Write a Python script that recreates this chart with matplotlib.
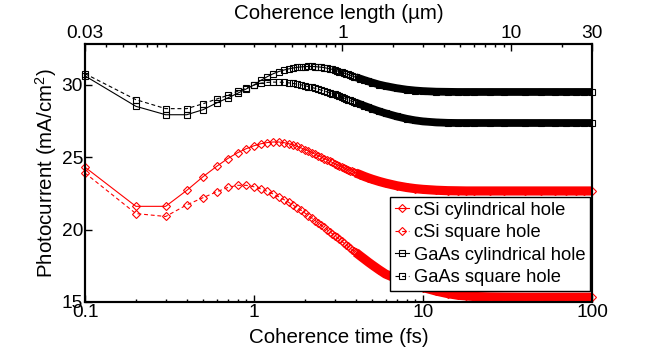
import matplotlib
matplotlib.use("Agg")
import matplotlib.pyplot as plt
from matplotlib.ticker import NullFormatter, LogLocator

plt.rcParams['font.family'] = ['Liberation Sans', 'DejaVu Sans']
plt.rcParams['mathtext.default'] = 'regular'

# Coherence time (fs)
t = [0.1, 0.2, 0.3, 0.4, 0.5, 0.6, 0.7, 0.8, 0.9, 1.0,
     1.1, 1.2, 1.3, 1.4, 1.5, 1.6, 1.7, 1.8, 1.9, 2.0,
     2.1, 2.2, 2.3, 2.4, 2.5, 2.6, 2.7, 2.8, 2.9, 3.0,
     3.1, 3.2, 3.3, 3.4, 3.5, 3.6, 3.7, 3.8, 3.9, 4.0,
     4.25, 4.5, 4.75, 5, 5.5, 6, 7, 8, 9, 10,
     12, 14, 16, 18, 20, 25, 30, 40, 50, 60, 70, 80, 90, 100]

csi_cyl = [24.3, 21.6, 21.6, 22.7, 23.65, 24.35, 24.9, 25.3, 25.58, 25.78,
           25.92, 26.0, 26.04, 26.04, 26.0, 25.93, 25.84, 25.74, 25.63, 25.52,
           25.42, 25.31, 25.2, 25.1, 25.0, 24.9, 24.81, 24.72, 24.63, 24.55,
           24.47, 24.4, 24.33, 24.26, 24.19, 24.13, 24.07, 24.01, 23.95, 23.9,
           23.78, 23.66, 23.56, 23.47, 23.32, 23.2, 23.02, 22.9, 22.82, 22.77,
           22.71, 22.68, 22.67, 22.66, 22.66, 22.66, 22.66, 22.66, 22.66, 22.66, 22.66, 22.66, 22.66, 22.66]

csi_sq = [23.9, 21.1, 20.9, 21.7, 22.2, 22.6, 22.9, 23.05, 23.05, 22.95,
          22.8, 22.63, 22.45, 22.26, 22.07, 21.88, 21.69, 21.5, 21.32, 21.14,
          20.96, 20.79, 20.62, 20.46, 20.3, 20.15, 20.0, 19.86, 19.72, 19.58,
          19.45, 19.32, 19.19, 19.07, 18.95, 18.84, 18.73, 18.62, 18.52, 18.42,
          18.18, 17.96, 17.75, 17.56, 17.22, 16.93, 16.6, 16.35, 16.15, 16.0,
          15.75, 15.58, 15.47, 15.42, 15.38, 15.35, 15.34, 15.33, 15.33, 15.33, 15.33, 15.33, 15.33, 15.33]

gaas_cyl = [30.6, 28.5, 27.92, 27.92, 28.27, 28.73, 29.08, 29.4, 29.7, 29.97,
            30.3, 30.55, 30.75, 30.9, 31.0, 31.08, 31.14, 31.19, 31.22, 31.24,
            31.25, 31.25, 31.24, 31.22, 31.2, 31.17, 31.13, 31.09, 31.05, 31.0,
            30.95, 30.9, 30.85, 30.8, 30.75, 30.7, 30.65, 30.6, 30.55, 30.51,
            30.41, 30.31, 30.22, 30.14, 30.0, 29.9, 29.75, 29.65, 29.59, 29.55,
            29.51, 29.5, 29.49, 29.49, 29.49, 29.49, 29.49, 29.49, 29.49, 29.49, 29.49, 29.49, 29.49, 29.49]

gaas_sq = [30.75, 28.96, 28.34, 28.34, 28.68, 29.0, 29.26, 29.54, 29.76, 29.97,
           30.1, 30.15, 30.17, 30.17, 30.15, 30.12, 30.08, 30.03, 29.98, 29.92,
           29.86, 29.8, 29.74, 29.68, 29.62, 29.56, 29.5, 29.44, 29.38, 29.32,
           29.26, 29.2, 29.14, 29.08, 29.02, 28.97, 28.91, 28.86, 28.81, 28.76,
           28.64, 28.53, 28.43, 28.33, 28.16, 28.02, 27.8, 27.64, 27.53, 27.46,
           27.39, 27.36, 27.35, 27.35, 27.35, 27.35, 27.35, 27.35, 27.35, 27.35, 27.35, 27.35, 27.35, 27.35]

labels = ['cSi cylindrical hole', 'cSi square hole', 'GaAs cylindrical hole', 'GaAs square hole']
xticks = [0.1, 1, 10, 100]
xticklabels = ['0.1', '1', '10', '100']
top_ticks = [0.03, 1, 10, 30]
top_ticklabels = ['0.03', '1', '10', '30']
yticks = [15, 20, 25, 30]

FS_TICK = 13.8
FS_LABEL = 14.8
FS_LEG = 13.2
fig = plt.figure(figsize=(6.54, 3.47), dpi=100)
ax = fig.add_axes([0.130, 0.1297, 0.7752, 0.7435])
ax.set_xscale('log')
ax.set_xlim(0.1, 100)
ax.set_ylim(15, 32.8)

series = [
    (csi_cyl, 'red', '-', 'D', 4.2, 6.6),
    (csi_sq, 'red', (0, (3.5, 2.5)), 'D', 4.2, 6.6),
    (gaas_cyl, 'black', '-', 's', 5.0, 5.6),
    (gaas_sq, 'black', (0, (3.5, 2.5)), 's', 5.0, 5.6),
]
band_start = t.index(4.0)
handles = []
for (vals, col, ls, mk, ms, bw), lab in zip(series, labels):
    ax.plot(t[band_start:], vals[band_start:], color=col, lw=bw,
            solid_capstyle='butt', clip_on=False, zorder=2)
    ln, = ax.plot(t, vals, color=col, ls=ls, lw=0.8, marker=mk, ms=ms,
                  mfc='none', mec=col, mew=0.8, clip_on=False, zorder=3, label=lab)
    handles.append(ln)

ax.set_xticks(xticks)
ax.set_xticklabels(xticklabels)
ax.xaxis.set_minor_locator(LogLocator(base=10, subs=range(2, 10)))
ax.xaxis.set_minor_formatter(NullFormatter())
ax.set_yticks(yticks)
ax.tick_params(axis='both', which='major', direction='in', length=5, width=1,
               labelsize=FS_TICK, pad=1.5)
ax.tick_params(axis='both', which='minor', direction='in', length=2.5, width=1)
ax.tick_params(axis='y', right=False)
ax.set_xlabel('Coherence time (fs)', fontsize=FS_LABEL, labelpad=5)
ax.set_ylabel('Photocurrent (mA/cm$^2$)', fontsize=FS_LABEL, labelpad=2)

ax2 = ax.twiny()
ax2.set_xscale('log')
ax2.set_xlim(0.03, 30)
ax2.set_xticks(top_ticks)
ax2.set_xticklabels(top_ticklabels)
ax2.xaxis.set_minor_locator(LogLocator(base=10, subs=range(2, 10)))
ax2.xaxis.set_minor_formatter(NullFormatter())
ax2.tick_params(axis='x', which='major', direction='in', length=5, width=1,
                labelsize=FS_TICK, pad=1.5)
ax2.tick_params(axis='x', which='minor', direction='in', length=2.5, width=1)
ax2.set_xlabel('Coherence length (\u00b5m)', fontsize=FS_LABEL, labelpad=4)

for a in (ax, ax2):
    for s in a.spines.values():
        s.set_linewidth(1.5)

leg = ax.legend(handles=handles, loc='upper left',
                bbox_to_anchor=(390 / 654, 1 - 197 / 347),
                bbox_transform=fig.transFigure, borderaxespad=0,
                fontsize=FS_LEG, handlelength=0.8, handletextpad=0.25,
                labelspacing=0.3, borderpad=0.25, fancybox=False,
                framealpha=1, edgecolor='black')
leg.get_frame().set_linewidth(1.0)
leg.set_zorder(5)

fig.savefig('out.png', dpi=100)
